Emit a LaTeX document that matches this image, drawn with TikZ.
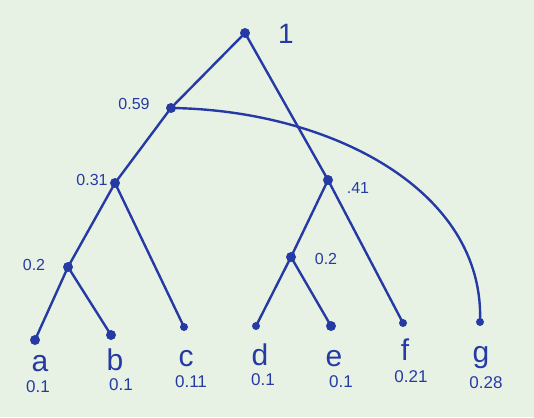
\documentclass[tikz,border=0pt]{standalone}
\usepackage{fontspec}
\setmainfont{Liberation Sans}
\definecolor{ink}{RGB}{38,58,165}
\definecolor{paper}{RGB}{232,242,228}
\begin{document}
\begin{tikzpicture}[x=1pt,y=-1pt,
  dot/.style={circle,fill=ink,inner sep=0pt,minimum size=10pt},
  edge/.style={draw=ink,line width=2.4pt,line cap=round},
  leaflbl/.style={text=ink,font=\fontsize{30}{30}\selectfont,inner sep=0pt},
  wlbl/.style={text=ink,font=\fontsize{17}{17}\selectfont,inner sep=0pt},
  ilbl/.style={text=ink,font=\fontsize{16}{16}\selectfont,inner sep=0pt}]
\fill[paper] (0,0) rectangle (534,417);
\useasboundingbox (0,0) rectangle (534,417);
% internal nodes
\node[dot] (r) at (245,33) {};
\node[dot] (n59) at (171,108) {};
\node[dot] (n31) at (115,183) {};
\node[dot] (n41) at (328,180) {};
\node[dot] (n2l) at (68,267) {};
\node[dot] (n2r) at (291,257) {};
% leaves
\node[dot] (a) at (35,340) {};
\node[dot] (b) at (111,335) {};
\node[dot,minimum size=8pt] (c) at (184,327) {};
\node[dot,minimum size=8pt] (d) at (256,326) {};
\node[dot] (e) at (331,326) {};
\node[dot,minimum size=8pt] (f) at (403,323) {};
\node[dot,minimum size=8pt] (g) at (480,322) {};
% edges
\draw[edge] (r.center) -- (n59.center);
\draw[edge] (r.center) -- (n41.center);
\draw[edge] (n59.center) -- (n31.center);
\draw[edge] (n59.center) .. controls (330,110) and (485,190) .. (g.center);
\draw[edge] (n31.center) -- (n2l.center);
\draw[edge] (n31.center) -- (c.center);
\draw[edge] (n2l.center) -- (a.center);
\draw[edge] (n2l.center) -- (b.center);
\draw[edge] (n41.center) -- (n2r.center);
\draw[edge] (n41.center) -- (f.center);
\draw[edge] (n2r.center) -- (d.center);
\draw[edge] (n2r.center) -- (e.center);
% internal labels
\node[text=ink,font=\fontsize{28}{28}\selectfont,inner sep=0pt] (l1) at (286,34) {1};
\node[ilbl] (l59) at (134,104) {0.59};
\node[ilbl] (l31) at (92,180) {0.31};
\node[ilbl] (l41) at (358,188) {.41};
\node[ilbl] (l2l) at (34,265) {0.2};
\node[ilbl] (l2r) at (326,259) {0.2};
% leaf labels
\node[leaflbl] (ta) at (40,364) {a};
\node[leaflbl] (tb) at (115,360) {b};
\node[leaflbl] (tc) at (186,359) {c};
\node[leaflbl] (td) at (260,355) {d};
\node[leaflbl] (te) at (334,359) {e};
\node[leaflbl] (tf) at (405,350) {f};
\node[leaflbl] (tg) at (481,358) {g};
% weights
\node[wlbl] (wa) at (38,387) {0.1};
\node[wlbl] (wb) at (121,385) {0.1};
\node[wlbl] (wc) at (191,382) {0.11};
\node[wlbl] (wd) at (263,380) {0.1};
\node[wlbl] (we) at (341,382) {0.1};
\node[wlbl] (wf) at (411,377) {0.21};
\node[wlbl] (wg) at (486,383) {0.28};
\end{tikzpicture}
\end{document}
